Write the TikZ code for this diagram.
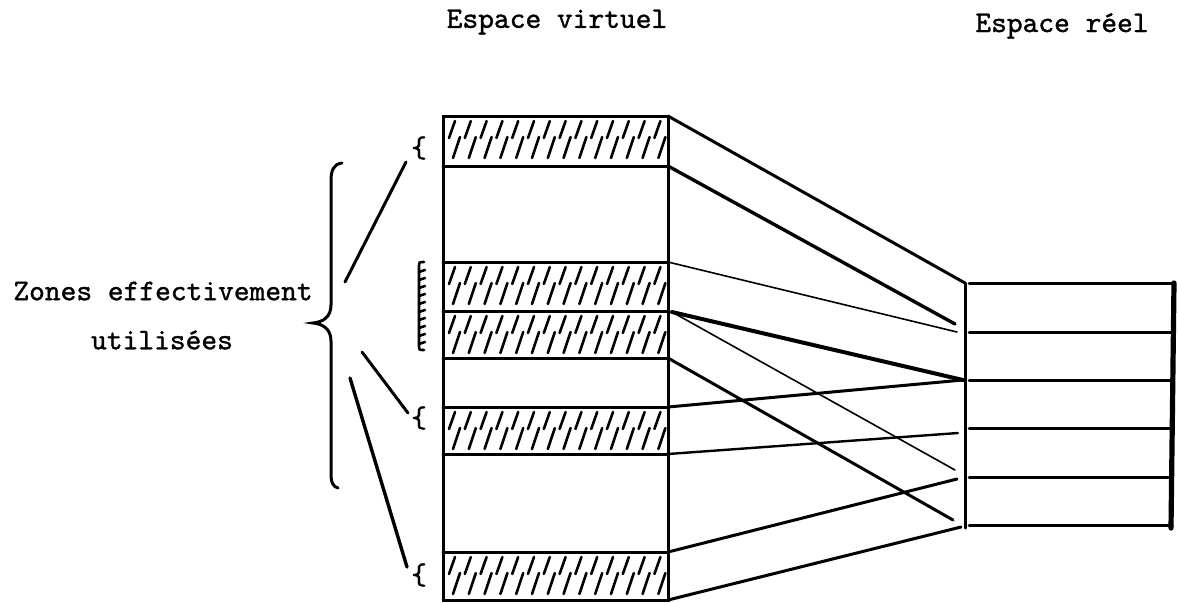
\documentclass[tikz,border=0pt]{standalone}
\usepackage{fontspec}
\newfontfamily\typew{lmmono10-regular.otf}[FakeBold=1.1]
\begin{document}
\begin{tikzpicture}[x=0.5pt,y=-0.5pt,line cap=round,
            box/.style={line width=1.5pt},
            link/.style={line width=1.5pt},
            fine/.style={line width=0.8pt},
            hatch/.style={line width=1.3pt},
            lbl/.style={font=\typew\fontsize{15}{18}\selectfont,inner sep=0pt}]
            \useasboundingbox (0,0) rectangle (1178,602);
            \node[lbl](tv) at (557,22) {Espace virtuel};
            \node[lbl](tr) at (1062,26) {Espace réel};
            \node[lbl](z1) at (163,291) {Zones effectivement};
            \node[lbl](z2) at (162,340) {utilisées};
            \node[lbl](b1) at (419,148) {\{};
            \node[lbl](b3) at (419,418) {\{};
            \node[lbl](b4) at (419,575) {\{};
            \coordinate (f1) at (345,282);
            \coordinate (f3) at (362,352);
            \coordinate (f4) at (350,378);
            \coordinate (g1) at (406,162);
            \coordinate (g3) at (408,413);
            \coordinate (g4) at (407,567);
            \coordinate (v1) at (668,116);
            \coordinate (v2) at (668,166);
            \coordinate (v3) at (668,262);
            \coordinate (v4) at (672,312);
            \coordinate (v6) at (668,358);
            \coordinate (v7) at (668,407);
            \coordinate (v8) at (668,454);
            \coordinate (v9) at (668,552);
            \coordinate (v10) at (668,600);
            \coordinate (r1) at (965,283);
            \coordinate (r6) at (965,528);
            \coordinate (e2) at (955,324);
            \coordinate (e3) at (957,332);
            \coordinate (e4) at (963,380);
            \coordinate (e5) at (955,470);
            \coordinate (e6) at (953,520);
            \coordinate (e8) at (958,433);
            \coordinate (e9) at (957,479);
            \coordinate (e10) at (961,527);
            \foreach \yt in {116,262,311,407,552}
                \foreach \k in {0,...,13}
                    \draw[hatch] (447+15.8*\k+2,\yt+22) -- (447+15.8*\k+8,\yt+5)
                        (447+15.8*\k+6,\yt+42) -- (447+15.8*\k+13,\yt+21);
            \draw[box] (443,116) rectangle (668,600);
            \foreach \y in {166,262,311,358,407,454,552}
                \draw[box] (443,\y) -- (668,\y);
            \draw[box] (r1) -- (r6);
            \foreach \y in {283,332,380,428,477,525}
                \draw[box] (969,\y) -- (1172,\y);
            \draw[line width=2.6pt] (1174,283) -- (1171,528);
            \draw[box] (342,163) .. controls (334,164) and (331,170) .. (331,180) -- (331,305)
                .. controls (331,317) and (323,322) .. (313,323)
                .. controls (323,324) and (331,329) .. (331,341) -- (331,476)
                .. controls (331,483) and (334,487) .. (338,488);
            \draw[hatch] (424,262) .. controls (419,262) .. (419,267) -- (419,345)
                .. controls (419,350) .. (424,350);
            \foreach \y in {272,280,...,344}
                \draw[hatch] (419,\y) -- (425,\y-2);
            \draw[link] (f1) -- (g1);
            \draw[link] (f3) -- (g3);
            \draw[link, line width=1.7pt] (f4) -- (g4);
            \draw[link] (v1) -- (r1);
            \draw[link, line width=1.7pt] (v2) -- (e2);
            \draw[fine] (v3) -- (e3);
            \draw[link, line width=2pt] (v4) -- (e4);
            \draw[fine] (v4) -- (e5);
            \draw[link] (v6) -- (e6);
            \draw[link] (v7) -- (e4);
            \draw[link, line width=1.2pt] (v8) -- (e8);
            \draw[link] (v9) -- (e9);
            \draw[link] (v10) -- (e10);
        \end{tikzpicture}
\end{document}
